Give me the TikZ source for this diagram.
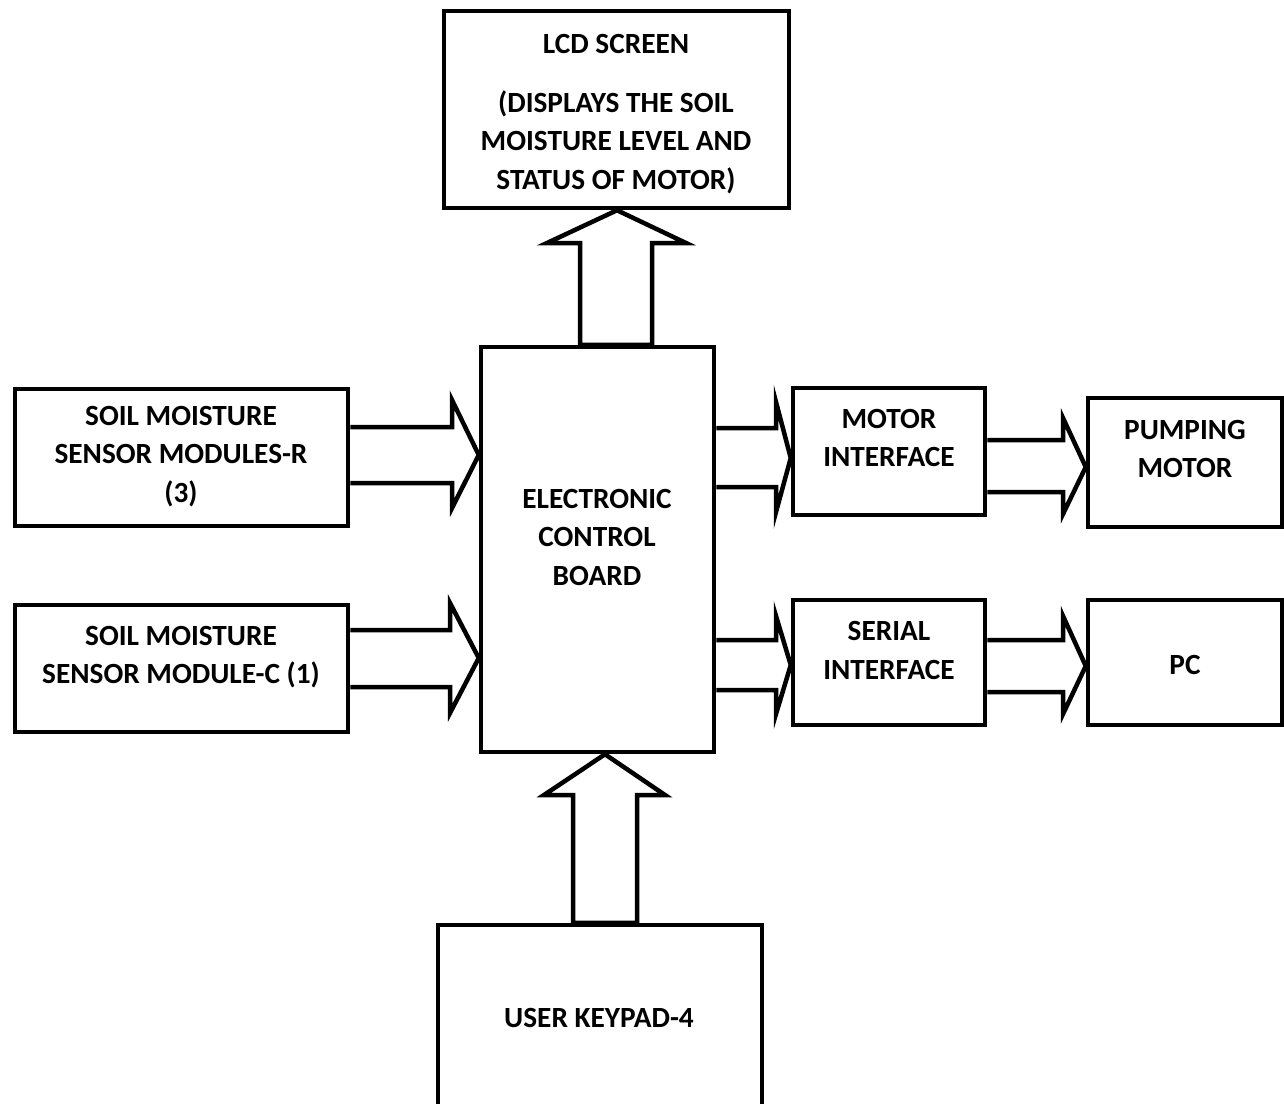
\documentclass[tikz,border=0pt]{standalone}
\usepackage{fontspec}
\setmainfont{Carlito}
\usetikzlibrary{calc}
\newcommand\hblockarrow[8]{\draw[barrow] let \p1=(#1.east), \p2=(#2.west) in (\x1,-#3pt) -- (#5pt,-#3pt) -- (#5pt,-#6pt) -- (\x2,-#8pt) -- (#5pt,-#7pt) -- (#5pt,-#4pt) -- (\x1,-#4pt);}
\newcommand\vblockarrow[8]{\draw[barrow] let \p1=(#1.north), \p2=(#2.south) in (#3pt,\y1) -- (#3pt,-#5pt) -- (#6pt,-#5pt) -- (#8pt,\y2) -- (#7pt,-#5pt) -- (#4pt,-#5pt) -- (#4pt,\y1) -- cycle;}
\begin{document}
\begin{tikzpicture}[x=1pt,y=-1pt,
  box/.style={draw, line width=4.5pt, inner sep=0pt},
  lbl/.style={align=center, font=\bfseries\fontsize{29.3}{38.5}\selectfont, inner sep=0pt},
  barrow/.style={draw, line width=4.5pt, line join=miter}]
\useasboundingbox[fill=white] (0,0) rectangle (1284,1103);
\clip (0,0) rectangle (1284,1103);
% boxes
\node[box, minimum width=345pt, minimum height=197pt] (lcd) at (616.5,109.5) {};
\node[box, minimum width=233pt, minimum height=405pt] (ecb) at (597.5,549.5) {};
\node[box, minimum width=333pt, minimum height=137pt] (smr) at (181.5,457.5) {};
\node[box, minimum width=333pt, minimum height=127pt] (smc) at (181.5,668.5) {};
\node[box, minimum width=192pt, minimum height=127pt] (mi) at (889,451.5) {};
\node[box, minimum width=194pt, minimum height=129pt] (pm) at (1185,462.5) {};
\node[box, minimum width=192pt, minimum height=125pt] (si) at (889,662.5) {};
\node[box, minimum width=194pt, minimum height=125pt] (pc) at (1185,662.5) {};
\node[box, minimum width=324pt, minimum height=210pt] (keypad) at (600,1030) {};
% labels
\node[lbl] (lcdt) at (616,44) {LCD SCREEN};
\node[lbl] (lcdd) at (616,142) {(DISPLAYS THE SOIL\\MOISTURE LEVEL AND\\STATUS OF MOTOR)};
\node[lbl] (ecbt) at (597,537) {ELECTRONIC\\CONTROL\\BOARD};
\node[lbl] (smrt) at (181,456.5) {SOIL MOISTURE\\SENSOR MODULES-R\\(3)};
\node[lbl] (smct) at (181,657) {SOIL MOISTURE\\SENSOR MODULE-C (1)};
\node[lbl] (mit) at (889,438) {MOTOR\\INTERFACE};
\node[lbl] (pmt) at (1185,449) {PUMPING\\MOTOR};
\node[lbl] (sit) at (889,650.5) {SERIAL\\INTERFACE};
\node[lbl] (pct) at (1185,665) {PC};
\node[lbl] (kpt) at (599,1018) {USER KEYPAD-4};
% block arrows
\hblockarrow{smr}{ecb}{427}{483}{452}{400}{508}{455}
\hblockarrow{smc}{ecb}{630}{687}{450}{603}{713}{658}
\hblockarrow{ecb}{mi}{428}{487}{776}{402}{512}{458}
\hblockarrow{mi}{pm}{440}{492}{1063}{418}{514}{467}
\hblockarrow{ecb}{si}{640}{690}{776}{616}{714}{665}
\hblockarrow{si}{pc}{640}{692}{1063}{616}{714}{666}
\vblockarrow{ecb}{lcd}{580}{652}{243}{547}{686}{617}
\vblockarrow{keypad}{ecb}{573}{637}{795}{544}{665}{605}
\end{tikzpicture}
\end{document}
